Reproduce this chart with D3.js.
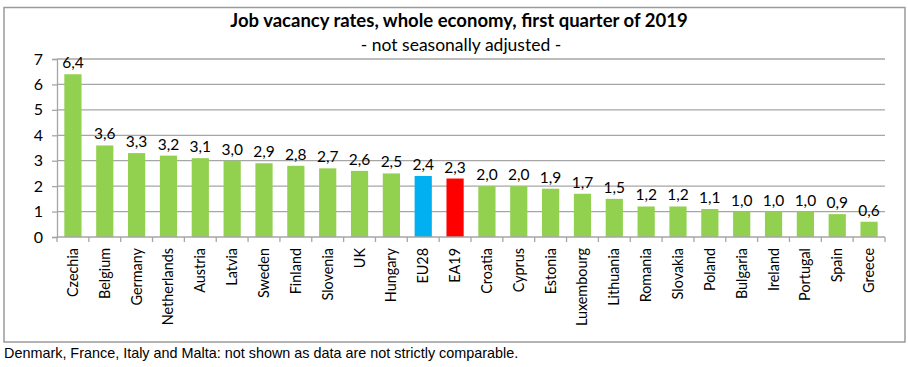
<!DOCTYPE html>
<html><head><meta charset="utf-8">
<script src="https://cdn.jsdelivr.net/npm/d3@7"></script>
<style>body{margin:0;background:#fff}svg{display:block}</style>
</head><body>
<svg id="c" width="908" height="367"></svg>
<script>
const categories = ["Czechia","Belgium","Germany","Netherlands","Austria","Latvia","Sweden","Finland","Slovenia","UK","Hungary","EU28","EA19","Croatia","Cyprus","Estonia","Luxembourg","Lithuania","Romania","Slovakia","Poland","Bulgaria","Ireland","Portugal","Spain","Greece"];
const values = [6.4,3.6,3.3,3.2,3.1,3.0,2.9,2.8,2.7,2.6,2.5,2.4,2.3,2.0,2.0,1.9,1.7,1.5,1.2,1.2,1.1,1.0,1.0,1.0,0.9,0.6];
const yTicks = [0,1,2,3,4,5,6,7];
const title = "Job vacancy rates, whole economy, first quarter of 2019";
const subtitle = "- not seasonally adjusted -";
const footnote = "Denmark, France, Italy and Malta: not shown as data are not strictly comparable.";
const colorFor = c => c === "EU28" ? "#00B0F0" : c === "EA19" ? "#FF0000" : "#92D050";

const svg = d3.select("#c");
const font = "Lato, 'Open Sans', sans-serif";
svg.append("rect").attr("x",4).attr("y",7.5).attr("width",901).attr("height",334.5)
  .attr("fill","#fff").attr("stroke","#9a9a9a").attr("stroke-width",1.5);

const x = d3.scaleBand().domain(categories).range([57,885]).paddingInner(0.46).paddingOuter(0.23);
const y = d3.scaleLinear().domain([0,7]).range([237,59]);

svg.append("g").selectAll("line").data(yTicks.filter(t=>t>0)).join("line")
  .attr("x1",57).attr("x2",885).attr("y1",d=>y(d)).attr("y2",d=>y(d))
  .attr("stroke","#a6a6a6").attr("stroke-width",1.3);

svg.append("g").selectAll("rect").data(categories).join("rect")
  .attr("x",d=>x(d)).attr("width",x.bandwidth())
  .attr("y",(d,i)=>y(values[i])).attr("height",(d,i)=>y(0)-y(values[i]))
  .attr("fill",d=>colorFor(d));

const yAxis = svg.append("g").attr("transform","translate(57,0)")
  .call(d3.axisLeft(y).tickValues(yTicks).tickSize(5).tickPadding(9).tickFormat(d3.format("d")));
yAxis.select(".domain").attr("stroke","#a6a6a6").attr("stroke-width",1.3);
yAxis.selectAll(".tick line").attr("stroke","#a6a6a6").attr("stroke-width",1.3);
yAxis.selectAll("text").attr("font-family",font).attr("font-size",16).attr("fill","#000");

const n = categories.length;
const xg = svg.append("g");
xg.append("line").attr("x1",57).attr("x2",885).attr("y1",y(0)).attr("y2",y(0))
  .attr("stroke","#a6a6a6").attr("stroke-width",1.3);
xg.selectAll("line.t").data(d3.range(n+1)).join("line").attr("class","t")
  .attr("x1",i=>57+i*(828/n)).attr("x2",i=>57+i*(828/n))
  .attr("y1",y(0)).attr("y2",y(0)+5).attr("stroke","#a6a6a6").attr("stroke-width",1.3);
xg.selectAll("text").data(categories).join("text")
  .attr("transform",d=>`translate(${x(d)+x.bandwidth()/2+5},248) rotate(-90)`)
  .attr("text-anchor","end").attr("font-family",font).attr("font-size",14.4).attr("fill","#000")
  .text(d=>d);

const fmt = v => v.toFixed(1).replace(".",",");
svg.append("g").selectAll("text").data(categories).join("text")
  .attr("x",d=>x(d)+x.bandwidth()/2).attr("y",(d,i)=>y(values[i])-6)
  .attr("text-anchor","middle").attr("font-family",font).attr("font-size",15.5).attr("fill","#000")
  .text((d,i)=>fmt(values[i]));

svg.append("text").attr("x",459).attr("y",27).attr("text-anchor","middle")
  .attr("font-family",font).attr("font-weight","bold").attr("font-size",18.5).text(title);
svg.append("text").attr("x",461).attr("y",51).attr("text-anchor","middle")
  .attr("font-family",font).attr("font-size",17.5).text(subtitle);
svg.append("text").attr("x",4).attr("y",358)
  .attr("font-family","'Liberation Sans', Arial, sans-serif").attr("font-size",14.4).text(footnote);
</script>
</body></html>
